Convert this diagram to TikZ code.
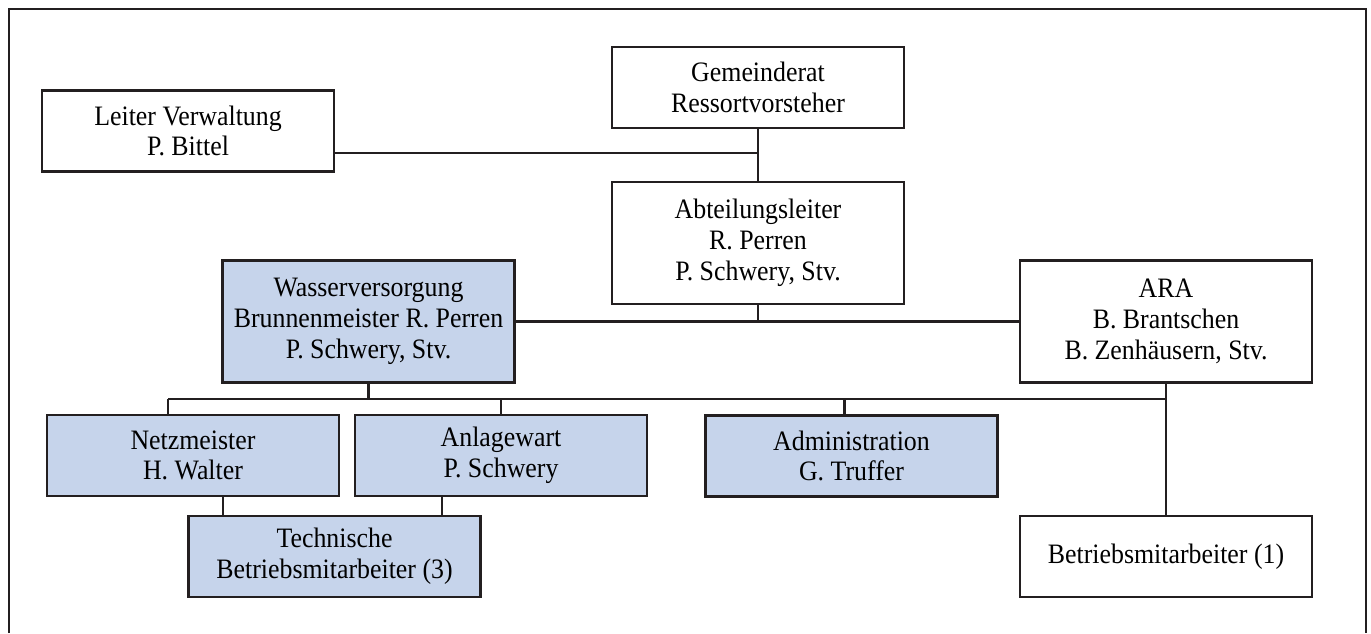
\documentclass[tikz,border=0pt]{standalone}
\usepackage{fontspec}
\setmainfont{Liberation Serif}[FakeStretch=0.92]
\usepackage{tikz}
\usetikzlibrary{positioning}
\definecolor{wblue}{RGB}{198, 212, 235}
\definecolor{lgray}{RGB}{35, 31, 32}

\tikzset{
    box/.style={draw=lgray, line width=1.4pt, align=center, inner sep=2pt,
        minimum width=5.84cm, minimum height=1.62cm,
        font=\fontsize{16}{17.5}\selectfont},
    tallbox/.style={box, minimum height=2.44cm},
    bluebox/.style={fill=wblue},
    link/.style={draw=lgray, line width=1.3pt}
}

\begin{document}
\begin{tikzpicture}[x=0.02cm, y=-0.02cm]

    \useasboundingbox (0, 0) rectangle (1371, 633);
    \draw [link] (9, 633) -- (9, 9) -- (1366, 9) -- (1366, 633);

    \node [box] (gr) at (758, 87.5) {Gemeinderat\\Ressortvorsteher};
    \node [box] (lv) at (188, 131) {Leiter Verwaltung\\P. Bittel};
    \node [tallbox] (al) at (758, 243) {Abteilungsleiter\\R. Perren\\P. Schwery, Stv.};
    \node [tallbox, bluebox] (wv) at (368.5, 321.5) {Wasserversorgung\\Brunnenmeister R. Perren\\P. Schwery, Stv.};
    \node [tallbox] (ara) at (1166, 321.5) {ARA\\B. Brantschen\\B. Zenh\"ausern, Stv.};

    \node [box, bluebox] (nm) at (193, 455.5) {Netzmeister\\H. Walter};
    \node [box, bluebox] (aw) at (501, 455.5) {Anlagewart\\P. Schwery};
    \node [box, bluebox] (adm) at (851.5, 456) {Administration\\G. Truffer};
    \node [box, bluebox] (tb) at (334.5, 556.5) {Technische\\Betriebsmitarbeiter (3)};
    \node [box] (bm) at (1166, 556.5) {Betriebsmitarbeiter (1)};

    % upper connections
    \coordinate (jv) at (758, 153);
    \draw [link] (gr.south) -- (al.north);
    \draw [link] (lv.east |- jv) -- (jv);
    \draw [link] (wv.east) -- (ara.west);
    \draw [link] (al.south) -- (al.south |- wv.east);

    % bus below Wasserversorgung
    \coordinate (bl) at (168, 399);
    \coordinate (br) at (1166, 399);
    \draw [link] (wv.south) -- (wv.south |- bl);
    \draw [link] (bl) -- (br);
    \draw [link] (ara.south) -- (bm.north);
    \draw [link] (bl) -- (bl |- nm.north);
    \draw [link] (aw.north |- bl) -- (aw.north);
    \draw [link] ([xshift=-0.14cm]adm.north |- bl) -- ([xshift=-0.14cm]adm.north);

    % Technische Betriebsmitarbeiter
    \coordinate (tl) at (223, 516);
    \coordinate (tr) at (442, 516);
    \draw [link] (tl |- nm.south) -- (tl);
    \draw [link] (tr |- aw.south) -- (tr);

\end{tikzpicture}
\end{document}
